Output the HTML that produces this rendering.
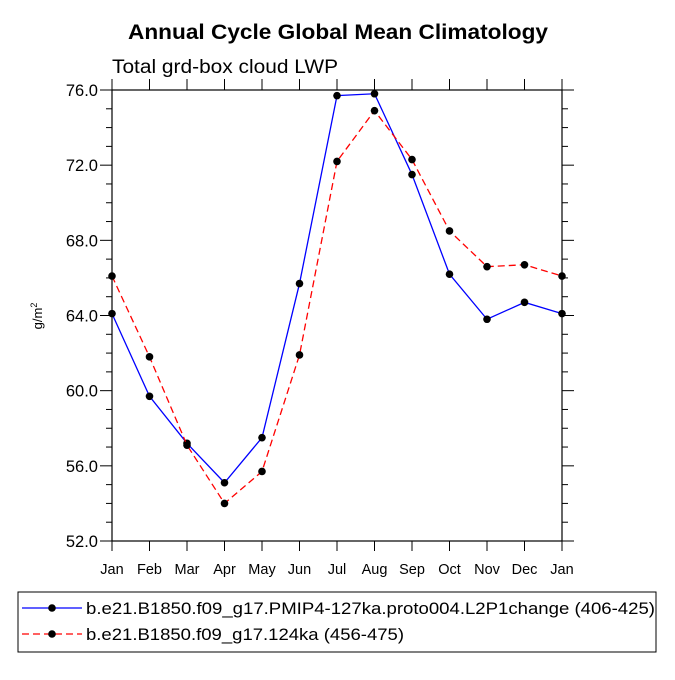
<!DOCTYPE html>
<html><head><meta charset="utf-8"><style>
body{margin:0;background:#fff}
svg text{font-family:"Liberation Sans",Helvetica,sans-serif;fill:#000}
</style></head><body>
<svg width="675" height="675" viewBox="0 0 675 675">
<text x="338" y="39" text-anchor="middle" font-size="21" font-weight="bold" textLength="420" lengthAdjust="spacingAndGlyphs">Annual Cycle Global Mean Climatology</text>
<text x="112" y="73" font-size="19" textLength="226" lengthAdjust="spacingAndGlyphs">Total grd-box cloud LWP</text>
<text transform="translate(42,316) rotate(-90)" text-anchor="middle" font-size="13">g/m<tspan dy="-5" font-size="9">2</tspan></text>
<g id="axes"></g>
<g id="series"></g>
<rect x="18" y="592" width="638" height="60" fill="none" stroke="#000" stroke-width="1"/>
<g>
<line x1="22" y1="608" x2="82" y2="608" stroke="#0000ff" stroke-width="1.3"/>
<circle cx="52" cy="608" r="3.8" fill="#000"/>
<text x="86" y="614" font-size="17" textLength="569" lengthAdjust="spacingAndGlyphs">b.e21.B1850.f09_g17.PMIP4-127ka.proto004.L2P1change (406-425)</text>
</g>
<g>
<line x1="22" y1="634" x2="82" y2="634" stroke="#ff0000" stroke-width="1.3" stroke-dasharray="7,4"/>
<circle cx="52" cy="634" r="3.8" fill="#000"/>
<text x="86" y="640" font-size="17" textLength="318" lengthAdjust="spacingAndGlyphs">b.e21.B1850.f09_g17.124ka (456-475)</text>
</g>
</svg>
<script>
const months=["Jan","Feb","Mar","Apr","May","Jun","Jul","Aug","Sep","Oct","Nov","Dec","Jan"];
const seriesBlue=[64.1,59.7,57.2,55.1,57.5,65.7,75.7,75.8,71.5,66.2,63.8,64.7,64.1];
const seriesRed=[66.1,61.8,57.1,54.0,55.7,61.9,72.2,74.9,72.3,68.5,66.6,66.7,66.1];
const yTicks=[52,56,60,64,68,72,76];
const yMin=52,yMax=76;
const L=112,R=562,T=90,B=541,NS="http://www.w3.org/2000/svg";
const xs=i=>L+i*(R-L)/(months.length-1);
const ys=v=>B-(v-yMin)/(yMax-yMin)*(B-T);
function mk(tag,attrs,parent){const e=document.createElementNS(NS,tag);for(const k in attrs)e.setAttribute(k,attrs[k]);parent.appendChild(e);return e;}
const ax=document.getElementById('axes');
const frame=mk('rect',{x:L,y:T,width:R-L,height:B-T,fill:'none',stroke:'#000','stroke-width':1.2},ax);


for(let v=yMin;v<=yMax;v++){
  const major=(v-yMin)%4===0,len=major?12:6,y=ys(v);
  mk('line',{x1:L-len,y1:y,x2:L,y2:y,stroke:'#000','stroke-width':1},ax);
  mk('line',{x1:R,y1:y,x2:R+len,y2:y,stroke:'#000','stroke-width':1},ax);
}
yTicks.forEach(v=>{
  const t=mk('text',{x:L-14,y:ys(v)+6,'text-anchor':'end','font-size':16.5},ax);
  t.textContent=v.toFixed(1);
  
  
});
months.forEach((m,i)=>{
  const x=xs(i);
  mk('line',{x1:x,y1:T-11,x2:x,y2:T,stroke:'#000','stroke-width':1},ax);
  mk('line',{x1:x,y1:B,x2:x,y2:B+10,stroke:'#000','stroke-width':1},ax);
  const t=mk('text',{x:x,y:B+33,'text-anchor':'middle','font-size':14.5},ax);
  t.textContent=m;
  
  
});
const sg=document.getElementById('series');
function draw(data,color,dash,name){
  const g=mk('g',{},sg);
  
  
  const pts=data.map((v,i)=>xs(i)+','+ys(v)).join(' ');
  const attrs={points:pts,fill:'none',stroke:color,'stroke-width':1.3};
  if(dash)attrs['stroke-dasharray']=dash;
  mk('polyline',attrs,g);
  data.forEach((v,i)=>mk('circle',{cx:xs(i),cy:ys(v),r:3.8,fill:'#000'},g));
}
draw(seriesBlue,'#0000ff',null,'series-pmip4-127ka');
draw(seriesRed,'#ff0000','7,4','series-124ka');
</script>
</body></html>
